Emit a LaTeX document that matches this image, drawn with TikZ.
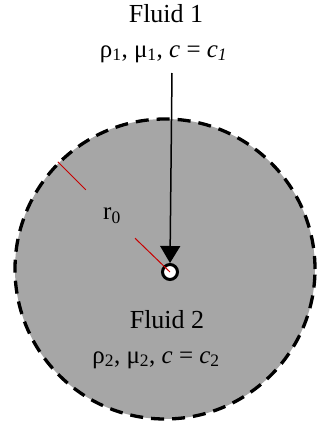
\documentclass[tikz,border=0pt]{standalone}
\usepackage{fontspec}
\setmainfont{Liberation Serif}
\usetikzlibrary{arrows.meta}
\definecolor{fluidgray}{RGB}{166,166,166}
\definecolor{radred}{RGB}{200,0,0}
\tikzset{
	title/.style = {anchor=base, inner sep=0pt, font=\fontsize{26}{28}\selectfont},
	props/.style = {anchor=base, inner sep=0pt, font=\fontsize{25}{27}\selectfont},
	radius line/.style = {draw=radred, line width=1pt}
}
\begin{document}
\begin{tikzpicture}[x=1pt,y=-1pt]
	\useasboundingbox (0,0) rectangle (320,423);
	\node (B)  at (165, 269)	[circle, minimum size=300pt, inner sep=0pt, fill=fluidgray, draw, line width=3.3pt, dash pattern=on 13pt off 8pt]	{};
	\node (H)  at (170, 272)	[circle, minimum size=15pt, inner sep=0pt, fill=white, draw, line width=3pt]	{};
	\node (F1) at (166,  23)	[title]	{Fluid 1};
	\node (P1) at (163.5, 57)	[props]	{ρ\textsubscript{1}, μ\textsubscript{1}, \textit{c} = \textit{c}\textsubscript{\textit{1}}};
	\node (F2) at (167, 328)	[title]	{Fluid 2};
	\node (P2) at (156, 363)	[props]	{ρ\textsubscript{2}, μ\textsubscript{2}, \textit{c} = \textit{c}\textsubscript{2}};
	\node (R0) at (112, 216)	[props, anchor=center]	{r\textsubscript{0}};
	\coordinate (T) at (172, 73);
	\draw[line width=1.5pt, -{Triangle[length=17pt, width=20pt]}] (T) -- (H.north);
	\draw[radius line, shorten >=37pt] (B.135) -- (R0.center);
	\draw[radius line, shorten >=32pt] (H.center) -- (R0.center);
\end{tikzpicture}
\end{document}
